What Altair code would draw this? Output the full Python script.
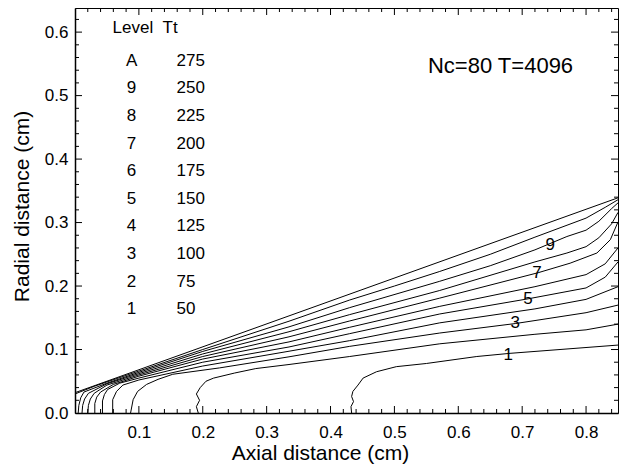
import altair as alt
import pandas as pd

# ---------------- data ----------------
wall_x = [0.0, 0.85]
wall_r = [0.032, 0.339]

lvA_x = [0.0, 0.03, 0.05, 0.1, 0.2, 0.335, 0.43, 0.5, 0.571, 0.65, 0.72, 0.8, 0.83, 0.85]
lvA_r = [0.030, 0.042, 0.049, 0.066, 0.100, 0.1446, 0.178, 0.200, 0.223, 0.250, 0.277, 0.307, 0.324, 0.336]

lv9_x = [0.005, 0.006, 0.009, 0.014, 0.05, 0.1, 0.2, 0.335, 0.43, 0.571, 0.65, 0.72, 0.77, 0.8, 0.82, 0.84, 0.85]
lv9_r = [0.0, 0.012, 0.024, 0.033, 0.047, 0.064, 0.097, 0.1357, 0.166, 0.2075, 0.232, 0.257, 0.278, 0.288, 0.302, 0.322, 0.331]

lv8_x = [0.011, 0.012, 0.015, 0.021, 0.05, 0.1, 0.2, 0.335, 0.43, 0.571, 0.72, 0.77, 0.8, 0.82, 0.84, 0.85]
lv8_r = [0.0, 0.012, 0.022, 0.031, 0.046, 0.062, 0.093, 0.128, 0.155, 0.193, 0.238, 0.252, 0.262, 0.276, 0.298, 0.316]

lv7_x = [0.020, 0.021, 0.024, 0.030, 0.05, 0.1, 0.2, 0.335, 0.43, 0.571, 0.725, 0.775, 0.817, 0.838, 0.85]
lv7_r = [0.0, 0.012, 0.022, 0.031, 0.044, 0.060, 0.089, 0.120, 0.145, 0.181, 0.221, 0.236, 0.252, 0.273, 0.301]

lv6_x = [0.031, 0.031, 0.034, 0.040, 0.06, 0.1, 0.2, 0.335, 0.43, 0.571, 0.72, 0.8, 0.83, 0.85]
lv6_r = [0.0, 0.015, 0.025, 0.033, 0.045, 0.058, 0.085, 0.112, 0.135, 0.168, 0.199, 0.218, 0.235, 0.260]

lv5_x = [0.043, 0.043, 0.046, 0.051, 0.07, 0.1, 0.2, 0.335, 0.43, 0.571, 0.71, 0.8, 0.83, 0.85]
lv5_r = [0.0, 0.019, 0.029, 0.037, 0.047, 0.055, 0.080, 0.104, 0.125, 0.156, 0.180, 0.197, 0.214, 0.238]

lv4_x = [0.059, 0.059, 0.065, 0.075, 0.1, 0.2, 0.335, 0.43, 0.571, 0.72, 0.8, 0.85]
lv4_r = [0.0, 0.021, 0.034, 0.044, 0.052, 0.074, 0.0973, 0.114, 0.142, 0.164, 0.179, 0.199]

lv3_x = [0.087, 0.091, 0.098, 0.112, 0.13, 0.153, 0.226, 0.335, 0.43, 0.571, 0.69, 0.8, 0.85]
lv3_r = [0.0, 0.021, 0.034, 0.045, 0.053, 0.061, 0.071, 0.0885, 0.105, 0.126, 0.141, 0.158, 0.170]

lv2_x = [0.193, 0.190, 0.195, 0.190, 0.196, 0.205, 0.217, 0.25, 0.283, 0.335, 0.43, 0.571, 0.72, 0.8, 0.85]
lv2_r = [0.0, 0.010, 0.020, 0.030, 0.040, 0.050, 0.055, 0.063, 0.070, 0.0764, 0.089, 0.109, 0.124, 0.131, 0.140]

lv1_x = [0.433, 0.432, 0.436, 0.433, 0.435, 0.443, 0.451, 0.472, 0.503, 0.55, 0.629, 0.681, 0.85]
lv1_r = [0.0, 0.010, 0.018, 0.026, 0.034, 0.044, 0.055, 0.065, 0.073, 0.078, 0.089, 0.094, 0.107]

legend_levels = ["A", "9", "8", "7", "6", "5", "4", "3", "2", "1"]
legend_tt = ["275", "250", "225", "200", "175", "150", "125", "100", "75", "50"]

label_text = ["9", "7", "5", "3", "1"]
label_x = [0.744, 0.723, 0.709, 0.689, 0.678]
label_r = [0.265, 0.220, 0.179, 0.141, 0.091]

x_tick_labels = [0.1, 0.2, 0.3, 0.4, 0.5, 0.6, 0.7, 0.8]
y_tick_labels = [0.0, 0.1, 0.2, 0.3, 0.4, 0.5, 0.6]
x_major = [0.1, 0.2, 0.3, 0.4, 0.5, 0.6, 0.7, 0.8]
x_minor = [0.02, 0.04, 0.06, 0.08, 0.12, 0.14, 0.16, 0.18, 0.22, 0.24, 0.26, 0.28,
           0.32, 0.34, 0.36, 0.38, 0.42, 0.44, 0.46, 0.48, 0.52, 0.54, 0.56, 0.58,
           0.62, 0.64, 0.66, 0.68, 0.72, 0.74, 0.76, 0.78, 0.82, 0.84]
y_major = [0.1, 0.2, 0.3, 0.4, 0.5, 0.6]
y_minor = [0.02, 0.04, 0.06, 0.08, 0.12, 0.14, 0.16, 0.18, 0.22, 0.24, 0.26, 0.28,
           0.32, 0.34, 0.36, 0.38, 0.42, 0.44, 0.46, 0.48, 0.52, 0.54, 0.56, 0.58, 0.62]

# ---------------- build tables ----------------
series = [("wall", wall_x, wall_r), ("A", lvA_x, lvA_r), ("9", lv9_x, lv9_r),
          ("8", lv8_x, lv8_r), ("7", lv7_x, lv7_r), ("6", lv6_x, lv6_r),
          ("5", lv5_x, lv5_r), ("4", lv4_x, lv4_r), ("3", lv3_x, lv3_r),
          ("2", lv2_x, lv2_r), ("1", lv1_x, lv1_r)]
rows = []
for name, xx, rr in series:
    for i, (a, b) in enumerate(zip(xx, rr)):
        rows.append({"line": name, "i": i, "x": a, "r": b})
df = pd.DataFrame(rows)

FONT = "Liberation Sans"
W, H = 543, 405
xs = alt.Scale(domain=[0, 0.85], nice=False, zero=False)
ys = alt.Scale(domain=[0, 0.638], nice=False, zero=False)

X_AXIS = alt.Axis(
    values=x_tick_labels, format=".1f", title="Axial distance  (cm)",
    ticks=False, tickSize=0, grid=False, domain=True, domainColor="black",
    domainWidth=1.5, labelFont=FONT, labelFontSize=17, labelColor="black",
    labelPadding=11, titleFont=FONT, titleFontSize=21, titleFontWeight="normal",
    titleColor="black", titleX=245, titleY=46, titleAlign="center",
    titleBaseline="alphabetic")
Y_AXIS = alt.Axis(
    values=y_tick_labels, format=".1f", title="Radial distance  (cm)",
    ticks=False, tickSize=0, grid=False, domain=True, domainColor="black",
    domainWidth=1.5, labelFont=FONT, labelFontSize=17, labelColor="black",
    labelPadding=7, titleFont=FONT, titleFontSize=21, titleFontWeight="normal",
    titleColor="black", titleX=-47, titleY=198, titleAlign="center",
    titleAngle=270, titleBaseline="alphabetic")


def X(field):
    return alt.X(field, scale=xs, axis=X_AXIS)


def Y(field):
    return alt.Y(field, scale=ys, axis=Y_AXIS)


lines = alt.Chart(df).mark_line(color="black", strokeWidth=1, clip=True).encode(
    x=X("x:Q"), y=Y("r:Q"), detail="line:N", order="i:Q")


def xticks(vals, length, top):
    d = pd.DataFrame({"v": vals})
    if top:
        yv, y2v = alt.value(0), alt.value(length)
    else:
        yv, y2v = alt.value(H), alt.value(H - length)
    return alt.Chart(d).mark_rule(color="black", strokeWidth=1).encode(
        x=X("v:Q"), y=yv, y2=y2v)


def yticks(vals, length, right):
    d = pd.DataFrame({"v": vals})
    if right:
        xv, x2v = alt.value(W), alt.value(W - length)
    else:
        xv, x2v = alt.value(0), alt.value(length)
    return alt.Chart(d).mark_rule(color="black", strokeWidth=1).encode(
        y=Y("v:Q"), x=xv, x2=x2v)


ticks = [xticks(x_major, 7, False), xticks(x_minor, 4, False),
         xticks(x_major, 7, True), xticks(x_minor, 4, True),
         yticks(y_major, 7, False), yticks(y_minor, 4, False),
         yticks(y_major, 7, True), yticks(y_minor, 4, True)]


def text_layer(frame, size, align):
    return alt.Chart(frame).mark_text(font=FONT, fontSize=size, color="black",
                                      align=align, baseline="middle").encode(
        x=X("x:Q"), y=Y("r:Q"), text="t:N")


# contour labels
labels = text_layer(pd.DataFrame({"t": label_text, "x": label_x, "r": label_r}), 17, "center")

# legend table (positions are layout constants in data units)
HEAD_Y = 0.607
ROW0_Y = 0.555
ROW_STEP = 0.0435
head = text_layer(pd.DataFrame({"t": ["Level", "Tt"], "x": [0.0588, 0.137],
                                "r": [HEAD_Y, HEAD_Y]}), 17, "left")
rows_y = [ROW0_Y - k * ROW_STEP for k in range(len(legend_levels))]
lev = text_layer(pd.DataFrame({"t": legend_levels, "x": [0.0886] * len(legend_levels),
                               "r": rows_y}), 17, "center")
tt = text_layer(pd.DataFrame({"t": legend_tt, "x": [0.159] * len(legend_tt),
                              "r": rows_y}), 17, "left")
note = text_layer(pd.DataFrame({"t": ["Nc=80 T=4096"], "x": [0.5525], "r": [0.547]}), 22, "left")

chart = alt.layer(lines, *ticks, labels, head, lev, tt, note).properties(
    width=W, height=H,
    padding={"left": 75, "top": 8, "right": 2, "bottom": 52},
    autosize=alt.AutoSizeParams(type="none"),
    background="white",
).configure_view(stroke="black", strokeWidth=1)

chart.save("out.html", embed_options={"renderer": "svg", "actions": False})
